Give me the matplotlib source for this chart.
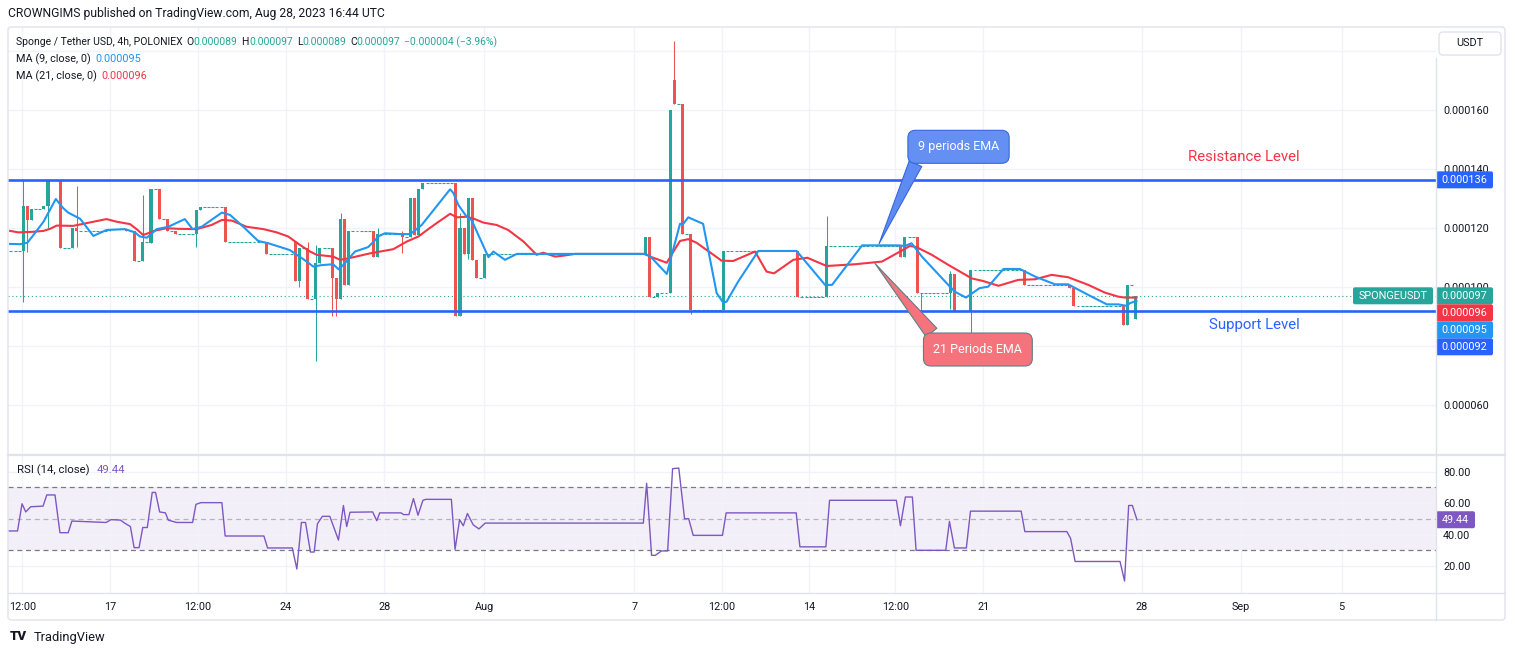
import matplotlib.pyplot as plt
from matplotlib.patches import FancyBboxPatch
import numpy as np

plt.rcParams['font.family'] = ['Roboto', 'DejaVu Sans']

# Sponge / Tether USD, 4h candles. Prices in millionths of USDT, x is the bar number.
bar_idx = [-3, 0, 1, 2, 5, 6, 9, 12, 13, 21, 25, 27, 29, 31, 33, 35, 37, 42, 43, 49, 59,
           66, 67, 69, 71, 72, 75, 76, 77, 78, 79, 85, 86, 92, 94, 95, 96, 97,
           105, 106, 107, 108, 109, 110, 112, 151, 152, 154, 157, 158, 160, 162, 170,
           188, 195, 213, 214, 217, 218, 225, 226, 230, 243, 254, 255, 267, 268, 270]
opens = [112.3, 112.3, 127.6, 122.7, 126.5, 127.6, 136.3, 113.1, 119.9, 118.8, 119.8, 118.8,
         108.9, 115.0, 133.2, 122.9, 118.8, 117.9, 126.1, 127.0, 115.2,
         115.2, 102.0, 113.1, 95.9, 108.0, 113.1, 103.0, 95.9, 122.9, 100.6, 118.8, 110.1,
         117.9, 116.8, 130.1, 117.6, 133.2,
         135.2, 90.0, 120.0, 111.1, 130.1, 109.2, 103.0, 111.1, 116.8, 96.6, 97.8, 170.2,
         162.0, 118.0, 92.2,
         112.3, 96.6, 114.0, 110.1, 116.8, 97.8, 97.8, 104.5, 92.0, 105.8, 100.6, 99.5,
         93.6, 87.0, 89.0]
highs = [112.3, 136.4, 127.6, 126.5, 127.6, 136.3, 136.3, 119.9, 134.2, 119.8, 119.8, 118.8,
         131.0, 133.2, 133.2, 122.9, 118.8, 126.1, 127.0, 127.0, 115.2,
         115.2, 113.1, 115.4, 114.3, 113.1, 113.1, 103.0, 124.9, 122.9, 118.8, 118.8, 119.9,
         119.0, 130.1, 130.1, 133.2, 135.2,
         135.2, 124.9, 120.0, 130.1, 130.1, 109.2, 111.1, 116.8, 116.8, 97.8, 160.0, 183.2,
         162.0, 118.0, 112.3,
         112.3, 123.9, 114.0, 116.8, 116.8, 97.8, 105.5, 104.5, 105.8, 105.8, 100.6, 99.5,
         93.6, 100.6, 97.0]
lows = [112.3, 95.0, 112.0, 122.7, 126.5, 119.9, 113.1, 113.1, 113.5, 118.8, 118.8, 108.9,
        108.9, 115.0, 122.9, 118.8, 117.9, 113.5, 126.1, 115.2, 111.1,
        102.0, 100.1, 95.9, 75.0, 108.0, 90.3, 90.3, 95.9, 100.6, 100.6, 110.1, 110.1,
        111.4, 116.8, 117.6, 117.6, 133.2,
        90.0, 90.0, 111.1, 109.4, 109.2, 103.0, 103.0, 111.1, 96.6, 96.6, 97.8, 162.0,
        118.0, 91.0, 92.2,
        96.6, 96.6, 110.1, 110.1, 97.8, 90.3, 92.4, 92.0, 82.9, 100.6, 99.5, 93.6,
        87.0, 87.0, 89.0]
closes = [112.3, 127.6, 122.7, 126.5, 127.6, 136.3, 113.1, 119.9, 118.8, 119.8, 118.8, 108.9,
          115.4, 133.2, 122.9, 118.8, 117.9, 126.1, 127.0, 115.2, 111.1,
          102.0, 113.1, 95.9, 108.0, 113.1, 103.0, 95.9, 122.9, 100.6, 118.8, 110.1, 117.9,
          117.0, 130.1, 117.6, 133.2, 135.2,
          90.0, 120.0, 111.1, 130.1, 109.2, 103.0, 111.1, 116.8, 96.6, 97.8, 160.0, 162.0,
          118.0, 92.2, 112.3,
          96.6, 114.0, 110.1, 116.8, 97.8, 97.8, 104.5, 92.0, 105.8, 100.6, 99.5, 93.6,
          87.0, 100.6, 97.0]

# moving averages (bar, value)
ma9_idx = [-3.2, -0.8, 1.0, 2.8, 4.9, 7.9, 9.7, 10.9, 13.8, 17.0, 20.2, 24.7, 27.1, 28.3, 30.0,
           32.4, 35.2, 39.2, 41.1, 43.3, 48.2, 50.2, 53.4, 57.0, 59.5, 64.7, 66.4, 68.0, 70.4,
           72.4, 75.2, 76.5, 77.7, 80.5, 83.7, 86.4, 87.8, 91.8, 93.9, 96.7, 103.6, 104.4,
           105.6, 107.6, 108.8, 112.9, 114.1, 116.9, 119.8, 150.5, 152.1, 156.2, 157.4, 159.4,
           160.2, 161.4, 165.0, 168.3, 169.9, 170.7, 173.5, 178.4, 187.7, 194.6, 196.3, 203.6,
           212.4, 214.0, 215.6, 218.1, 224.1, 226.1, 228.8, 232.1, 234.2, 237.9, 241.9, 245.6,
           250.4, 253.6, 258.5, 263.0, 265.8, 267.8, 268.6, 270.2]
ma9_val = [114.6, 114.5, 115.0, 118.2, 122.1, 129.8, 126.7, 125.2, 123.1, 117.3, 119.3, 119.6,
           118.5, 117.1, 116.7, 119.6, 120.4, 123.0, 119.6, 120.4, 125.2, 124.4, 120.4, 115.6,
           114.8, 112.5, 110.9, 109.4, 106.9, 107.4, 107.7, 106.0, 107.5, 112.0, 113.5, 117.3,
           118.2, 117.9, 117.9, 121.0, 133.1, 131.8, 127.8, 123.8, 122.7, 110.1, 112.0, 109.2,
           111.2, 111.2, 110.5, 104.4, 110.9, 121.4, 121.4, 123.6, 121.4, 97.9, 94.7, 95.0,
           101.8, 112.2, 112.2, 100.7, 100.7, 114.1, 114.1, 113.9, 114.8, 110.3, 101.3, 98.4,
           96.4, 99.6, 100.1, 106.1, 106.1, 103.5, 100.9, 100.9, 97.3, 94.1, 94.1, 93.6, 94.5,
           95.3]
ma21_idx = [-3.2, -1.2, 2.4, 4.9, 6.5, 8.1, 12.1, 14.2, 17.0, 20.2, 22.7, 25.9, 27.5, 29.1,
            30.3, 32.0, 34.8, 37.6, 42.1, 45.7, 48.2, 50.6, 54.2, 58.3, 61.5, 64.3, 67.2, 69.6,
            71.2, 75.2, 76.9, 78.9, 84.2, 87.4, 89.8, 93.1, 95.9, 98.3, 100.3, 103.6, 105.2,
            107.6, 109.6, 111.7, 114.9, 117.7, 121.4, 124.6, 126.2, 129.1, 131.1, 133.9, 150.9,
            152.5, 156.2, 157.8, 159.4, 161.4, 163.4, 169.5, 172.3, 177.6, 180.4, 182.2, 186.9,
            190.3, 195.0, 201.9, 208.4, 212.8, 215.2, 216.8, 220.5, 224.5, 230.2, 233.0, 236.7,
            241.5, 245.6, 249.6, 253.6, 258.5, 262.5, 265.8, 267.4, 270.2]
ma21_val = [119.0, 118.5, 118.7, 119.0, 119.7, 120.8, 120.7, 121.3, 122.1, 123.0, 122.1, 121.3,
            119.6, 117.6, 118.2, 119.1, 119.9, 119.7, 119.6, 121.0, 122.7, 122.5, 120.4, 119.6,
            118.5, 117.1, 114.2, 112.0, 110.9, 110.3, 109.2, 109.7, 111.4, 112.2, 112.8, 115.4,
            117.1, 119.6, 121.6, 124.8, 123.6, 123.8, 123.0, 121.8, 121.0, 119.3, 115.4, 110.9,
            111.6, 110.3, 110.6, 111.2, 111.2, 110.1, 108.2, 112.0, 115.6, 116.2, 115.0, 108.9,
            108.8, 112.0, 105.2, 104.6, 109.2, 109.9, 107.1, 107.7, 108.6, 112.0, 113.9, 113.5,
            110.9, 107.5, 102.9, 102.0, 100.4, 102.4, 102.6, 104.1, 103.3, 100.7, 98.1, 96.7,
            96.4, 96.4]

# RSI (14, close)
rsi_idx = [-3.5, -1.4, -0.3, 0.6, 1.8, 4.8, 5.7, 7.7, 8.9, 10.9, 11.8, 20.1, 21.3, 23.6, 24.6,
           26.0, 26.9, 28.1, 29.0, 30.1, 31.3, 32.1, 33.1, 34.5, 35.2, 37.2, 41.1, 41.9, 43.1,
           48.2, 49.0, 58.4, 59.3, 65.3, 66.4, 67.5, 68.5, 69.7, 70.6, 71.4, 72.6, 74.4, 76.5,
           77.7, 78.5, 79.3, 84.8, 85.8, 86.5, 91.7, 92.3, 93.6, 94.7, 95.8, 97.0, 97.7, 103.9,
           104.8, 105.9, 106.8, 107.8, 109.2, 110.6, 112.1, 150.5, 151.3, 152.5, 153.4, 154.9,
           156.4, 157.6, 159.1, 160.5, 161.5, 162.6, 169.7, 170.6, 187.6, 188.5, 194.8, 195.7,
           211.9, 212.9, 214.1, 215.8, 216.7, 223.9, 224.8, 226.0, 228.9, 229.9, 242.2, 243.1,
           253.3, 254.2, 255.3, 266.2, 267.3, 268.3, 269.2, 270.3]
rsi_val = [42.3, 42.3, 59.6, 54.4, 57.7, 58.1, 65.2, 65.2, 41.2, 41.2, 48.6, 47.7, 49.5, 49.2,
           47.3, 45.1, 31.7, 31.7, 44.5, 44.5, 66.8, 66.8, 54.4, 53.8, 49.2, 47.7, 47.7, 59.2,
           60.3, 60.3, 39.1, 39.1, 31.5, 31.5, 18.1, 47.7, 47.7, 28.9, 28.9, 46.9, 51.6, 51.6,
           36.5, 58.5, 45.1, 54.2, 54.4, 48.8, 53.8, 53.8, 52.7, 52.7, 62.9, 52.3, 61.8, 62.4,
           62.4, 30.6, 49.5, 45.6, 53.4, 46.2, 43.6, 47.3, 47.3, 72.6, 26.8, 26.8, 29.6, 29.6,
           81.9, 82.3, 50.1, 50.1, 39.5, 39.5, 53.8, 53.8, 32.2, 32.2, 61.8, 61.8, 45.6, 63.9,
           63.9, 30.0, 30.0, 48.4, 31.5, 31.5, 54.9, 54.9, 41.9, 41.9, 37.6, 22.9, 22.9, 10.5,
           58.5, 58.5, 49.44]

resistance = 136.3
support = 92.0

time_tick_pos = [-0.2, 21.0, 42.3, 63.7, 87.6, 111.9, 148.3, 169.5, 190.7, 211.7, 233.0,
                 271.5, 295.5, 320.0]
time_tick_labels = ['12:00', '17', '12:00', '24', '28', 'Aug', '7', '12:00', '14', '12:00',
                    '21', '28', 'Sep', '5']
price_ticks = [60, 80, 100, 120, 140, 160, 180]
rsi_ticks = [20, 40, 60, 80]

TEAL = '#26a69a'
RED = '#ef5350'
MA_BLUE = '#2196f3'
MA_RED = '#f23645'
LEVEL = '#2962ff'
PURPLE = '#7e57c2'
DARK = '#131722'
GRID = '#f0f3fa'
BORDER = '#e0e3eb'

W, H = 1515, 655
fig = plt.figure(figsize=(W / 100, H / 100), dpi=100)


def frac(x0, y0, x1, y1):
    return [x0 / W, 1 - y1 / H, (x1 - x0) / W, (y1 - y0) / H]


ax = fig.add_axes(frac(8, 27, 1435.5, 455))
rx = fig.add_axes(frac(8, 455, 1435.5, 592.7), sharex=ax)
ov = fig.add_axes([0, 0, 1, 1], zorder=5)
ov.set_xlim(0, W)
ov.set_ylim(H, 0)
ov.axis('off')
ov.patch.set_alpha(0)

# fill the quiet stretches with flat bars at the previous close
fx, fo, fh, fl, fc = [], [], [], [], []
for k in range(len(bar_idx)):
    if k > 0:
        for j in range(bar_idx[k - 1] + 1, bar_idx[k]):
            fx.append(j)
            fo.append(closes[k - 1]); fh.append(closes[k - 1])
            fl.append(closes[k - 1]); fc.append(closes[k - 1])
    fx.append(bar_idx[k])
    fo.append(opens[k]); fh.append(highs[k]); fl.append(lows[k]); fc.append(closes[k])
fx, fo, fh, fl, fc = map(np.array, (fx, fo, fh, fl, fc))

col = np.where(fc >= fo, TEAL, RED)
moving = fo != fc
ax.vlines(fx[moving], fl[moving], fh[moving], colors=col[moving], lw=0.75, zorder=3)
ax.bar(fx[moving], np.abs(fc - fo)[moving], bottom=np.minimum(fo, fc)[moving], width=0.74,
       color=col[moving], linewidth=0, zorder=3)
flat = ~moving
wick = flat & ((fh > fc) | (fl < fc))
ax.vlines(fx[wick], fl[wick], fh[wick], colors=TEAL, lw=0.75, zorder=3)
ax.hlines(fc[flat], fx[flat] - 0.36, fx[flat] + 0.36, colors=TEAL, lw=0.8, zorder=3)

ax.plot(ma21_idx, ma21_val, color=MA_RED, lw=1.5, zorder=4)
ax.plot(ma9_idx, ma9_val, color=MA_BLUE, lw=1.5, zorder=4)
ax.axhline(resistance, color=LEVEL, lw=1.9, zorder=5)
ax.axhline(support, color=LEVEL, lw=1.9, zorder=5)
ax.axhline(closes[-1], color=TEAL, lw=0.8, ls=(0, (1, 2.5)), zorder=2)

ax.set_xlim(-3.71, 342.77)
ax.set_ylim(43.05, 188.1)
ax.set_yticks(price_ticks)
ax.set_yticklabels(['' if v == 180 else f'{v / 1e6:.6f}' for v in price_ticks])
ax.yaxis.tick_right()
ax.set_xticks(time_tick_pos)
ax.tick_params(axis='x', labelbottom=False, length=0)
ax.tick_params(axis='y', length=0, pad=5.5, labelsize=7.8, labelcolor=DARK)
ax.grid(color=GRID, lw=1)
for s in ax.spines.values():
    s.set_visible(False)

ax.text(296.3, 144.1, 'Resistance Level', color=MA_RED, fontsize=10.8, ha='center', va='center')
ax.text(298.9, 87.1, 'Support Level', color=LEVEL, fontsize=10.8, ha='center', va='center')

ax.annotate('9 periods EMA', xy=(207.7, 114.6), xytext=(227.0, 147.5), ha='center', va='center',
            color='white', fontsize=9, zorder=10,
            bbox=dict(boxstyle='round,pad=0.8,rounding_size=0.6', fc='#6390f2', ec='#3468dc', lw=0.8),
            arrowprops=dict(arrowstyle='wedge,tail_width=1.1,shrink_factor=0.5', fc='#5d8bf2',
                            ec='#3468dc', lw=0.8, relpos=(0.04, 0.15), shrinkA=0, shrinkB=0))
ax.annotate('21 Periods EMA', xy=(206.7, 108.0), xytext=(231.7, 78.8), ha='center', va='center',
            color='white', fontsize=9, zorder=10,
            bbox=dict(boxstyle='round,pad=0.8,rounding_size=0.6', fc='#f5737d', ec='#5d8088', lw=0.8),
            arrowprops=dict(arrowstyle='wedge,tail_width=1.1,shrink_factor=0.5', fc='#f5737d',
                            ec='#5d8088', lw=0.8, relpos=(0.08, 0.95), shrinkA=0, shrinkB=0))

# RSI pane
rx.axhspan(30, 70, color=PURPLE, alpha=0.09, lw=0, zorder=1)
rx.axhline(70, color='#787b86', lw=0.9, ls=(0, (4, 3)), zorder=2)
rx.axhline(30, color='#787b86', lw=0.9, ls=(0, (4, 3)), zorder=2)
rx.axhline(50, color='#b2b5be', lw=0.9, ls=(0, (4, 3)), zorder=2)
rx.plot(rsi_idx, rsi_val, color=PURPLE, lw=1, zorder=3)
rx.set_ylim(3.05, 90.6)
rx.set_yticks(rsi_ticks)
rx.set_yticklabels([f'{v:.2f}' for v in rsi_ticks])
rx.yaxis.tick_right()
rx.set_xticks(time_tick_pos)
rx.set_xticklabels(time_tick_labels)
rx.tick_params(axis='x', length=0, pad=7, labelsize=7.8, labelcolor=DARK)
rx.tick_params(axis='y', length=0, pad=5.5, labelsize=7.8, labelcolor=DARK)
rx.grid(color=GRID, lw=1)
for s in rx.spines.values():
    s.set_visible(False)

# frame
ov.add_patch(FancyBboxPatch((8, 27), 1497, 593, boxstyle='round,pad=0,rounding_size=3',
                            fc='none', ec=BORDER, lw=1))
ov.plot([1435.7, 1435.7], [58, 620], color=BORDER, lw=1)
ov.plot([8, 1505], [455, 455], color=BORDER, lw=1.6)
ov.plot([8, 1505], [592.7, 592.7], color=BORDER, lw=1)
ov.add_patch(FancyBboxPatch((1439, 32), 62, 23, boxstyle='round,pad=0,rounding_size=4',
                            fc='white', ec=BORDER, lw=1))
ov.text(1470, 43.5, 'USDT', fontsize=7.8, color=DARK, ha='center', va='center')


def px_y(a, v):
    return H - a.transData.transform((0, v))[1]


def tag(y, txt, color, x=1436, w=57):
    ov.add_patch(FancyBboxPatch((x, y - 8.5), w, 17, boxstyle='round,pad=0,rounding_size=2',
                                fc=color, ec='none'))
    ov.text(x + w / 2, y, txt, fontsize=7.8, color='white', ha='center', va='center')


tags = [(resistance, LEVEL), (closes[-1], TEAL), (ma21_val[-1], MA_RED), (ma9_val[-1], MA_BLUE),
        (support, LEVEL)]
prev = -1e9
for v, c in sorted(tags, key=lambda t: -t[0]):
    y = max(px_y(ax, v), prev + 17)
    tag(y, f'{v / 1e6:.6f}', c)
    if c == TEAL:
        tag(y, 'SPONGEUSDT', TEAL, x=1353, w=80)
    prev = y
tag(px_y(rx, rsi_val[-1]), f'{rsi_val[-1]:.2f}', PURPLE, w=39)

renderer = fig.canvas.get_renderer()


def text_run(x, y, pieces, size, weight='normal'):
    for s, c, gap in pieces:
        t = ov.text(x, y, s, color=c, fontsize=size, ha='left', va='center', fontweight=weight)
        x += t.get_window_extent(renderer).width + gap


text_run(8, 14, [('CROWNGIMS published on TradingView.com, Aug 28, 2023 16:44 UTC', DARK, 0)], 8.75)
text_run(16, 42, [('Sponge / Tether USD, 4h, POLONIEX', DARK, 4), ('O', DARK, 0),
                  (f'{opens[-1] / 1e6:.6f}', TEAL, 4), ('H', DARK, 0),
                  (f'{highs[-1] / 1e6:.6f}', TEAL, 4), ('L', DARK, 0),
                  (f'{lows[-1] / 1e6:.6f}', TEAL, 4), ('C', DARK, 0),
                  (f'{closes[-1] / 1e6:.6f}', TEAL, 4), ('−0.000004 (−3.96%)', TEAL, 0)], 7.5)
text_run(16, 59, [('MA (9, close, 0)', DARK, 5), (f'{ma9_val[-1] / 1e6:.6f}', MA_BLUE, 0)], 7.8)
text_run(16, 76, [('MA (21, close, 0)', DARK, 5), (f'{ma21_val[-1] / 1e6:.6f}', MA_RED, 0)], 7.8)
text_run(17, 470, [('RSI (14, close)', DARK, 7), (f'{rsi_val[-1]:.2f}', PURPLE, 0)], 8.2)
text_run(10, 637, [('TV', DARK, 0)], 9.5, weight='heavy')
text_run(34, 637, [('TradingView', DARK, 0)], 9.3)

fig.savefig('out.png', dpi=100)
